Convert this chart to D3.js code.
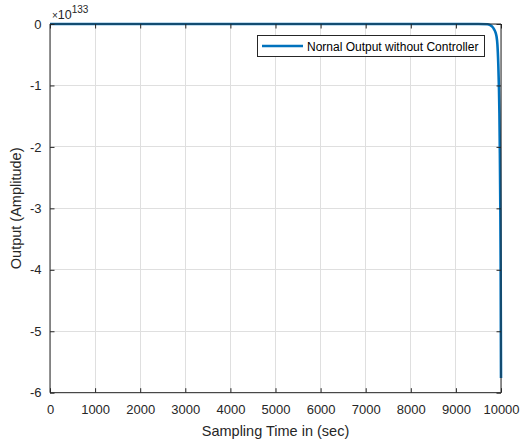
<!DOCTYPE html>
<html><head><meta charset="utf-8">
<script src="https://cdn.jsdelivr.net/npm/d3@7"></script>
<style>
body{margin:0;background:#fff;}
svg{display:block;font-family:"Liberation Sans",Arial,Helvetica,sans-serif;}
</style></head>
<body>
<script>
// Data (values in units of 1e133)
const timeValues = [0, 1000, 2000, 3000, 4000, 5000, 6000, 7000, 8000, 9000, 9500, 9700, 9750, 9800, 9850, 9880, 9900, 9920, 9940, 9955, 9965, 9975, 9985, 9992, 10000];
const outputValues = [0, 0, 0, 0, 0, 0, 0, 0, 0, 0, 0, -0.004, -0.015, -0.04, -0.09, -0.14, -0.2, -0.33, -0.65, -1.05, -1.45, -2.1, -3.0, -3.9, -5.76];
const xTicks = [0, 1000, 2000, 3000, 4000, 5000, 6000, 7000, 8000, 9000, 10000];
const yTicks = [0, -1, -2, -3, -4, -5, -6];
const seriesName = "Nornal Output without Controller";
const xLabel = "Sampling Time in (sec)";
const yLabel = "Output (Amplitude)";
const exponent = "133";

const W = 521, H = 443;
const m = {left: 50, right: 501, top: 24, bottom: 392.7};
const svg = d3.select("body").append("svg").attr("width", W).attr("height", H);
const x = d3.scaleLinear().domain([0, 10000]).range([m.left, m.right]);
const y = d3.scaleLinear().domain([-6, 0]).range([m.bottom, m.top]);
const axisColor = "#262626";

// grid
const g = svg.append("g");
g.selectAll(".gx").data(xTicks).join("line")
  .attr("x1", d => x(d)).attr("x2", d => x(d)).attr("y1", m.top).attr("y2", m.bottom)
  .attr("stroke", "#dfdfdf").attr("stroke-width", 1).attr("shape-rendering", "crispEdges");
g.selectAll(".gy").data(yTicks).join("line")
  .attr("y1", d => y(d)).attr("y2", d => y(d)).attr("x1", m.left).attr("x2", m.right)
  .attr("stroke", "#dfdfdf").attr("stroke-width", 1).attr("shape-rendering", "crispEdges");

// line
const line = d3.line().x((d, i) => x(timeValues[i])).y(d => y(d)).curve(d3.curveMonotoneX);
svg.append("path").datum(outputValues).attr("d", line)
  .attr("fill", "none").attr("stroke", "#0072BD").attr("stroke-width", 2.6)
  .attr("stroke-linejoin", "round");

// axes
const tl = 4.5;
const bottomAxis = d3.axisBottom(x).tickValues(xTicks).tickSize(-tl).tickPadding(12.5).tickFormat(d => String(d));
const topAxis = d3.axisTop(x).tickValues(xTicks).tickSize(-tl).tickFormat("");
const leftAxis = d3.axisLeft(y).tickValues(yTicks).tickSize(-tl).tickPadding(8.5).tickFormat(d => String(d));
const rightAxis = d3.axisRight(y).tickValues(yTicks).tickSize(-tl).tickFormat("");

function style(sel){
  sel.select(".domain").attr("stroke", axisColor).attr("stroke-width", 1);
  sel.selectAll(".tick line").attr("stroke", axisColor);
  sel.selectAll(".tick text").attr("fill", axisColor).style("font-size", "13px")
     .style("font-family", "'Liberation Sans',Arial,sans-serif");
}
svg.append("g").attr("transform", `translate(0,${m.bottom})`).call(bottomAxis).call(style)
  .call(s => s.select(".domain").attr("d", `M${m.left},0H${m.right}`));
svg.append("g").attr("transform", `translate(0,${m.top})`).call(topAxis).call(style)
  .call(s => s.select(".domain").attr("d", `M${m.left},0H${m.right}`));
svg.append("g").attr("transform", `translate(${m.left},0)`).call(leftAxis).call(style)
  .call(s => s.select(".domain").attr("d", `M0,${m.top}V${m.bottom}`));
svg.append("g").attr("transform", `translate(${m.right},0)`).call(rightAxis).call(style)
  .call(s => s.select(".domain").attr("d", `M0,${m.top}V${m.bottom}`));

// exponent
const ex = svg.append("text").attr("x", 52).attr("y", 19).attr("fill", axisColor)
  .style("font-size", "12.5px");
ex.append("tspan").style("font-size", "10px").text("×");
ex.append("tspan").text("10");
ex.append("tspan").attr("dy", -6).style("font-size", "10px").text(exponent);

// labels
svg.append("text").attr("x", (m.left + m.right) / 2).attr("y", 436).attr("text-anchor", "middle")
  .attr("fill", axisColor).style("font-size", "14.5px").text(xLabel);
svg.append("text").attr("transform", `translate(21,${(m.top + m.bottom) / 2}) rotate(-90)`)
  .attr("text-anchor", "middle").attr("fill", axisColor).style("font-size", "14.5px").text(yLabel);

// legend
const lg = svg.append("g");
lg.append("rect").attr("x", 257.5).attr("y", 35.5).attr("width", 227).attr("height", 21)
  .attr("fill", "#fff").attr("stroke", axisColor).attr("stroke-width", 1);
lg.append("line").attr("x1", 262).attr("x2", 303).attr("y1", 46).attr("y2", 46)
  .attr("stroke", "#0072BD").attr("stroke-width", 2.6);
lg.append("text").attr("x", 307).attr("y", 50.5).attr("fill", "#000").style("font-size", "12px").text(seriesName);
</script>
</body></html>
